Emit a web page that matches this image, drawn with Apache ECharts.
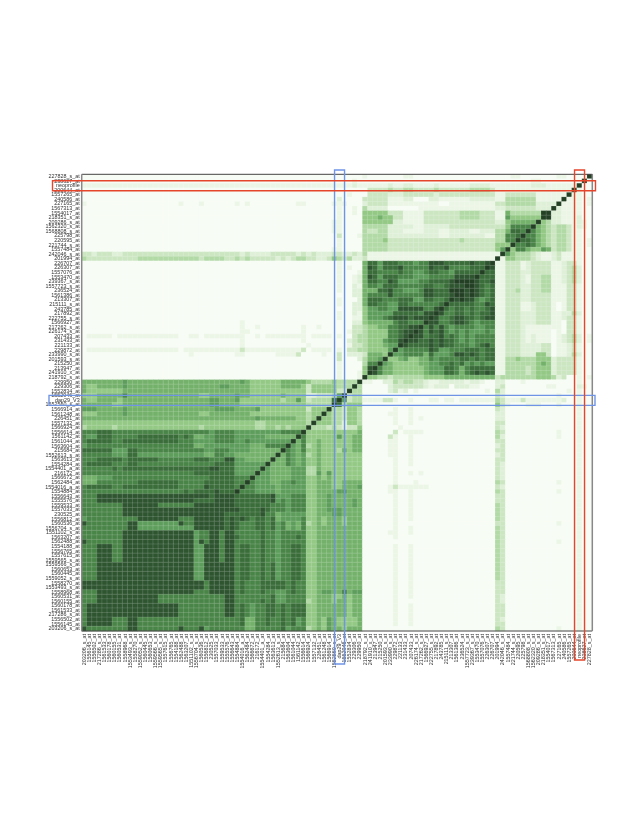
<!DOCTYPE html>
<html>
<head>
<meta charset="utf-8">
<style>html,body{margin:0;padding:0;background:#fff}#chart{width:637px;height:825px}</style>
<script src="https://cdn.jsdelivr.net/npm/echarts@6/dist/echarts.min.js"></script>
</head>
<body>
<div id="chart"></div>
<script>
// probe labels, top row first; columns use the same list backwards
var labels = ['227828_s_at','238627_at','neoprofile','200644_at','1557265_at','240586_at','227165_at','1567313_at','1554017_at','218351_s_at',
'209286_s_at','1562320_s_at','1568808_s_at','225798_at','220595_at','221744_s_at','1557484_at','242046_s_at','201994_at','226707_at',
'226307_at','1557076_at','1553470_at','239367_s_at','1557723_s_at','236524_at','1561386_at','213307_at','215111_s_at','243785_at',
'217892_at','222755_s_at','1566927_at','217262_s_at','226174_s_at','207433_at','231433_at','221133_at','229872_at','233990_s_at',
'201593_s_at','215250_at','213947_at','241910_x_at','218792_s_at','229950_at','229306_at','1552834_at','1552946_at','dap29_V3',
'1552560_s_at','1566914_at','1561248_at','226451_at','1557132_at','1566924_at','1556614_at','1561142_at','1561044_at','1563604_at',
'215684_at','1552613_s_at','1563613_at','1554284_at','1554401_a_at','216172_at','1566672_at','1562484_at','1554016_a_at','1554884_at',
'1556643_at','1555576_at','1559533_at','1557033_at','230525_at','1556812_at','1560536_at','1556704_s_at','1551102_s_at','1563207_at',
'1562488_at','1554188_at','1556765_at','1557615_at','1559565_s_at','1559566_s_at','1560653_at','1560445_at','1559052_s_at','1558270_at',
'1553493_s_at','1558968_at','1560531_at','1560155_at','1560178_at','1561533_at','217286_s_at','1556502_at','1556145_at','203206_s_at'];

// level read per row, upper-left half only: "startColumn:level", the level runs until the next start
var rowLevels = [
'0:0 55:1 56:0 63:1 65:0 84:1 86:0 93:1 95:0 99:b',
'0:0 53:1 54:0 88:1 90:0 98:b',
'0:1 53:2 54:1 60:2 61:1 63:2 65:1 69:2 70:1 76:2 80:1 88:2 91:1 97:b',
'0:0 56:3 60:4 61:3 63:4 65:3 69:4 70:3 76:4 80:3 81:1 96:b',
'0:0 52:1 53:0 56:3 60:2 63:3 69:2 70:3 81:1 83:3 89:1 95:b',
'0:0 50:2 51:0 55:3 60:1 63:2 65:0 68:2 70:1 76:2 81:1 83:4 89:1 94:b',
'0:1 1:0 19:1 20:0 23:1 24:0 30:1 31:0 32:1 33:0 42:1 44:0 49:1 52:0 55:2 56:3 60:1 70:0 72:1 81:3 83:4 89:2 93:b',
'0:0 50:1 51:0 53:1 54:0 55:4 56:2 60:0 66:1 81:2 83:3 89:2 92:b',
'0:0 50:1 51:0 53:1 54:0 55:5 60:3 63:1 67:3 74:4 78:3 81:1 83:6 84:4 90:b',
'0:0 50:1 51:0 55:5 58:6 59:5 61:3 63:1 67:3 74:4 78:3 81:1 83:7 84:5 90:b',
'0:0 49:1 51:0 55:5 61:2 63:1 67:3 81:2 83:5 84:6 89:b',
'0:0 49:1 51:0 55:4 60:2 65:1 67:2 72:3 81:3 83:5 84:8 88:b',
'0:0 49:1 51:0 55:4 56:3 58:4 60:2 63:1 67:2 70:1 72:2 76:1 78:2 81:4 83:6 84:9 86:8 87:b',
'0:0 50:3 51:0 54:1 55:4 60:2 70:1 72:2 79:1 81:4 83:8 85:9 86:b',
'0:0 50:1 51:0 55:4 59:5 60:3 74:4 75:3 81:4 83:8 85:b',
'0:0 50:1 51:0 55:4 60:3 81:5 84:b',
'0:0 49:1 51:0 55:4 60:3 81:5 82:7 83:b',
'0:3 2:2 3:3 6:2 8:3 31:2 32:3 33:2 37:3 42:2 43:3 44:2 45:3 46:2 49:3 51:2 53:3 54:2 55:4 56:1 82:b',
'0:4 1:3 11:4 23:3 24:4 28:3 30:4 31:3 32:4 33:3 38:2 39:3 40:2 41:3 42:4 44:3 46:2 48:3 49:5 50:4 51:3 52:4 53:2 55:3 56:1 81:b',
'0:0 50:1 51:0 55:6 56:9 58:7 59:9 62:8 65:7 66:8 68:a 71:9 76:a 77:9 79:a 80:b',
'0:0 50:1 51:0 52:1 53:0 55:6 56:a 57:9 58:7 59:9 62:a 63:8 68:a 69:9 71:a 72:8 76:9 79:b',
'0:0 50:1 51:0 54:1 55:6 56:9 58:8 62:9 63:8 65:7 67:8 68:9 70:8 72:7 73:9 78:b',
'0:0 50:1 51:0 53:1 54:2 55:6 56:a 57:9 58:7 59:9 62:8 65:7 68:8 73:a 76:a 77:b',
'0:0 50:1 51:0 53:1 54:2 55:6 56:9 58:8 60:a 61:9 62:7 66:8 68:9 72:a 73:b 76:b',
'0:0 50:1 51:0 53:2 54:1 55:6 56:8 58:7 59:9 62:8 65:8 67:9 69:8 71:9 72:a 75:b',
'0:0 50:1 51:0 53:2 55:6 58:9 60:a 61:8 63:7 66:8 67:a 69:9 72:b',
'0:0 53:2 55:6 56:8 60:a 61:8 67:a 69:9 72:a 73:b',
'0:0 50:1 51:0 54:2 55:6 56:9 59:8 62:9 65:7 67:9 69:8 71:9 72:b',
'0:0 50:1 51:0 53:2 55:6 56:9 58:8 60:7 62:9 64:8 70:9 71:b',
'0:0 53:2 55:5 56:7 58:8 60:7 62:a 65:a 67:8 69:a 70:b',
'0:0 50:1 51:0 53:2 54:1 55:5 56:7 61:9 63:9 66:8 67:a 69:b',
'0:0 50:1 51:0 53:1 55:5 56:7 59:8 60:9 61:a 64:9 65:a 68:b',
'0:0 31:1 32:0 53:2 55:5 56:6 61:8 62:9 64:8 67:b',
'0:0 31:1 32:0 34:1 35:0 43:1 44:0 46:1 47:0 53:3 55:4 56:5 58:6 60:8 62:9 64:a 66:b',
'0:0 31:1 33:0 43:1 44:0 52:1 53:3 55:4 56:5 60:8 62:9 63:a 65:b',
'0:0 1:1 6:0 7:1 19:0 21:1 23:0 24:1 32:0 34:1 35:0 36:1 44:0 45:1 49:0 50:1 51:0 53:3 54:4 56:5 60:8 62:9 63:a 64:b',
'0:0 31:1 32:0 43:1 44:0 52:2 53:3 54:4 56:5 59:7 60:8 62:a 63:b',
'0:0 31:1 32:0 44:1 45:0 52:1 53:3 55:4 56:5 59:6 60:7 62:b',
'0:0 1:1 19:0 20:1 31:3 32:1 43:3 44:0 45:1 49:0 50:1 51:0 52:3 54:4 56:5 60:7 61:b',
'0:0 21:1 22:0 30:1 32:0 38:1 42:3 43:0 47:1 48:0 50:3 51:0 52:2 55:3 56:6 59:5 60:b',
'0:0 50:3 51:0 54:2 55:4 56:6 58:7 59:b',
'0:0 50:1 51:0 55:4 56:8 58:b',
'0:0 50:1 51:0 55:5 56:a 57:b',
'0:0 50:1 51:0 54:1 55:5 56:b',
'0:0 50:1 51:0 54:1 55:b',
'0:6 8:7 9:6 31:7 32:6 33:5 39:6 44:5 45:4 49:5 50:4 54:b',
'0:6 1:5 3:6 8:7 9:6 27:7 29:6 33:5 39:6 43:5 44:3 45:5 50:4 53:b',
'0:6 1:5 3:5 8:6 33:5 44:3 45:5 50:3 52:b',
'0:5 3:6 8:8 9:6 23:5 25:6 30:7 31:6 33:5 39:6 40:5 44:2 46:3 49:4 50:7 51:b',
'0:6 1:5 3:6 7:5 8:6 25:7 27:6 30:7 31:5 39:4 40:5 42:7 43:5 44:3 45:4 49:9 50:b',
'0:6 6:5 8:6 25:7 27:6 31:5 44:4 49:b',
'0:7 3:6 8:7 9:6 26:7 30:6 34:7 35:5 44:3 45:5 48:b',
'0:5 3:6 8:7 9:6 23:5 25:6 33:5 44:4 45:5 47:b',
'0:6 34:7 35:6 42:5 44:4 45:5 46:b',
'0:5 34:4 36:5 44:4 45:b',
'0:4 1:5 6:4 7:5 23:4 24:5 34:4 36:5 38:4 39:5 40:4 41:5 44:b',
'0:8 3:9 6:8 25:7 26:8 30:7 39:8 43:b',
'0:8 1:7 3:9 6:8 11:9 19:8 20:9 21:8 22:6 24:7 26:8 30:7 36:6 42:b',
'0:8 1:9 6:8 8:9 19:8 22:7 26:8 30:7 32:8 33:7 41:b',
'0:7 1:8 22:6 24:7 33:6 36:8 40:b',
'0:9 6:7 9:9 11:8 24:7 26:8 29:7 33:6 39:b',
'0:8 6:7 9:9 11:7 24:6 26:8 28:7 30:6 38:b',
'0:8 3:9 8:8 9:9 15:8 22:9 25:8 28:a 30:7 32:6 37:b',
'0:8 1:9 6:8 9:9 11:8 26:9 30:7 36:b',
'0:8 6:9 7:8 8:9 25:a 27:9 30:7 35:b',
'0:8 22:9 26:9 30:7 34:b',
'0:6 3:7 6:8 25:9 30:8 33:b',
'0:6 3:8 11:9 19:8 24:9 30:8 32:b',
'0:8 1:9 6:8 8:9 19:8 24:a 25:9 30:8 31:b',
'0:8 20:9 21:8 22:9 26:a 27:9 30:b',
'0:8 3:a 22:a 25:9 26:a',
'0:8 3:a 22:9 26:a',
'0:8 8:a 15:8 22:a',
'0:8 8:a',
'0:8 8:a',
'0:7 1:8 11:a 19:8 22:a',
'0:a 1:8 9:a 11:7 19:a 20:8 22:a',
'0:8 9:a 11:7 22:a',
'0:8 8:a',
'0:8 8:a',
'0:a 1:8 8:a',
'0:8 3:a 6:8 8:a',
'0:8 3:a 6:8 8:a',
'0:8 3:a 6:8 8:a',
'0:8 3:a 6:8 8:a',
'0:8 3:a',
'0:8 3:a',
'0:8 3:a',
'0:8 3:a',
'0:a',
'0:a',
'0:8 3:a',
'0:8 3:a',
'0:8 3:a',
'0:8 1:a',
'0:8 1:a',
'0:8 1:a',
'0:8 1:a',
'0:8 1:a',
'0:a'
];

var colors = ['#f7fcf5','#ecf6e6','#dff0d8','#cce6c2','#b2daa6','#93c985','#74b26b','#5e9e5c','#4a8548','#3a6d3a','#2e5530','#233f24'];

var n = labels.length;
var matrix = [];
rowLevels.forEach(function (s) {
	var row = [];
	s.split(' ').forEach(function (t) {
		var p = t.split(':');
		for (var c = +p[0]; c < n; c++) row[c] = parseInt(p[1], 36);
	});
	matrix.push(row);
});

var cells = [];
for (var r = 0; r < n; r++) {
	for (var c = 0; c < n; c++) {
		// correlation matrix, the lower-right half mirrors the upper-left one
		var v = r + c <= n - 1 ? matrix[r][c] : matrix[n - 1 - c][n - 1 - r];
		cells.push([c, r, v]);
	}
}

var myChart = echarts.init(document.getElementById('chart'));
var left = 81.7, top0 = 174.3, w = 510.6, h = 456.7;
var option = {
	animation: false,
	backgroundColor: '#fff',
	grid: { left: left, top: top0, width: w, height: h },
	xAxis: {
		type: 'category',
		data: labels.slice().reverse(),
		splitLine: { show: false },
		axisLine: { show: false },
		axisTick: { show: false },
		axisLabel: { interval: 0, rotate: 90, fontSize: 5.4, margin: 3, color: '#333', fontFamily: 'Liberation Sans' }
	},
	yAxis: {
		type: 'category',
		inverse: true,
		data: labels,
		splitLine: { show: false },
		axisLine: { show: false },
		axisTick: { show: false },
		axisLabel: { interval: 0, fontSize: 5.4, margin: 2, color: '#333', fontFamily: 'Liberation Sans' }
	},
	visualMap: { show: false, min: 0, max: colors.length - 1, dimension: 2, inRange: { color: colors } },
	series: [{
		type: 'heatmap',
		data: cells,
		progressive: 0,
		itemStyle: { borderColor: 'rgba(255,255,255,0.22)', borderWidth: 0.6 },
		emphasis: { disabled: true }
	}]
};
myChart.setOption(option);

// highlight boxes around neoprofile and dap29_V3
function box(col, row, color) {
	var p = myChart.convertToPixel({ xAxisIndex: 0, yAxisIndex: 0 }, [col, row]);
	var st = { fill: 'none', stroke: color, lineWidth: 1.4 };
	return [
		{ type: 'rect', shape: { x: p[0] - 5, y: 170, width: 10, height: col === 50 ? 494 : 490 }, style: st, z: 10 },
		{ type: 'rect', shape: { x: col === 50 ? 49 : 52.5, y: p[1] - 5, width: col === 50 ? 546 : 543, height: 10 }, style: st, z: 10 }
	];
}
function frame() {
	var x2 = left + w, y2 = top0 + h;
	return [
		{ type: 'line', shape: { x1: left, y1: top0, x2: x2, y2: top0 }, style: { stroke: '#444', lineWidth: 1 }, z: 5 },
		{ type: 'line', shape: { x1: left, y1: y2, x2: x2, y2: y2 }, style: { stroke: '#444', lineWidth: 1 }, z: 5 },
		{ type: 'line', shape: { x1: left, y1: top0, x2: left, y2: y2 }, style: { stroke: '#888', lineWidth: 1.5 }, z: 5 },
		{ type: 'line', shape: { x1: x2, y1: top0, x2: x2, y2: y2 }, style: { stroke: '#888', lineWidth: 1.5 }, z: 5 }
	];
}
myChart.setOption({ graphic: frame().concat(box(50, 49, '#6f94e6'), box(97, 2, '#e5452b')) });
window.addEventListener('resize', function () {
	myChart.resize();
});
</script>
</body>
</html>
